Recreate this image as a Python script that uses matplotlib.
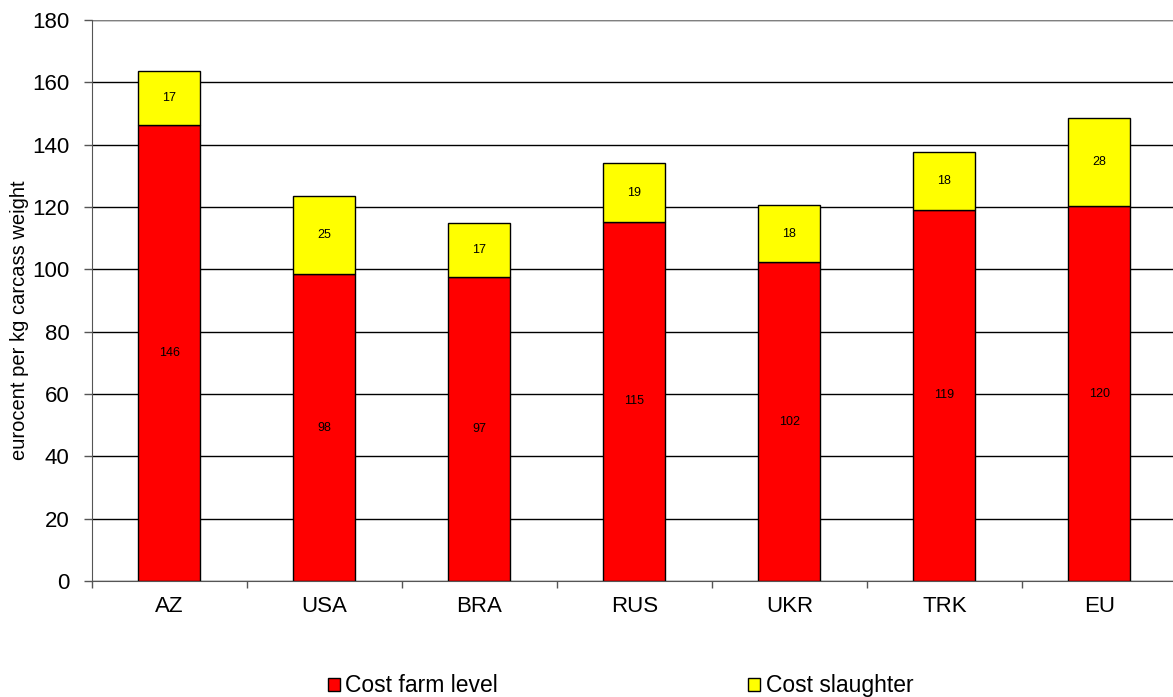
import matplotlib.pyplot as plt
import numpy as np

plt.rcParams["font.family"] = ["Liberation Sans", "DejaVu Sans"]

# eurocent per kg carcass weight
countries = ["AZ", "USA", "BRA", "RUS", "UKR", "TRK", "EU"]
cost_farm = [146.4, 98.4, 97.4, 115.2, 102.3, 119.2, 120.2]
cost_slaughter = [17.3, 25.0, 17.4, 18.9, 18.3, 18.4, 28.3]

x = np.arange(len(countries))
width = 0.4

fig = plt.figure(figsize=(11.73, 6.97), dpi=100)
ax = fig.add_axes([0.0784, 0.1664, 0.925, 0.8049])

ax.set_axisbelow(True)
ax.yaxis.grid(True, color="black", linewidth=1.0)

b1 = ax.bar(x, cost_farm, width, color="#ff0000", edgecolor="black",
            linewidth=1.0, label="Cost farm level")
b2 = ax.bar(x, cost_slaughter, width, bottom=cost_farm, color="#ffff00",
            edgecolor="black", linewidth=1.0, label="Cost slaughter")

for xi, f, s in zip(x, cost_farm, cost_slaughter):
    ax.text(xi, f / 2, f"{f:.0f}", ha="center", va="center", fontsize=9)
    ax.text(xi, f + s / 2, f"{s:.0f}", ha="center", va="center", fontsize=9)

ax.set_ylim(0, 180)
ax.set_yticks(range(0, 181, 20))
ax.set_xlim(-0.5, len(countries) - 0.5)
ax.set_xticks(x)
ax.set_xticklabels(countries)
ax.set_xticks(np.arange(-0.5, len(countries)), minor=True)
ax.tick_params(axis="x", which="major", length=0, pad=11, labelsize=16)
ax.tick_params(axis="x", which="minor", length=5, width=1, color="#555555")
ax.tick_params(axis="y", length=6, width=1, color="#555555", labelsize=16, pad=10)

for side in ("top", "right"):
    ax.spines[side].set_visible(False)
ax.spines["left"].set_color("#555555")
ax.spines["bottom"].set_color("#555555")
ax.axhline(180, color="#808080", linewidth=1.5)

ax.set_ylabel("eurocent per kg carcass weight", fontsize=14.5)
ax.yaxis.set_label_coords(-0.058, 0.465)

fig.legend(handles=[b1, b2], loc="center", bbox_to_anchor=(0.529, 0.016),
           ncol=2, frameon=False, fontsize=16.5, handlelength=0.52,
           handleheight=0.52, handletextpad=0.25, columnspacing=10.9)

fig.savefig("out.png", dpi=100)
